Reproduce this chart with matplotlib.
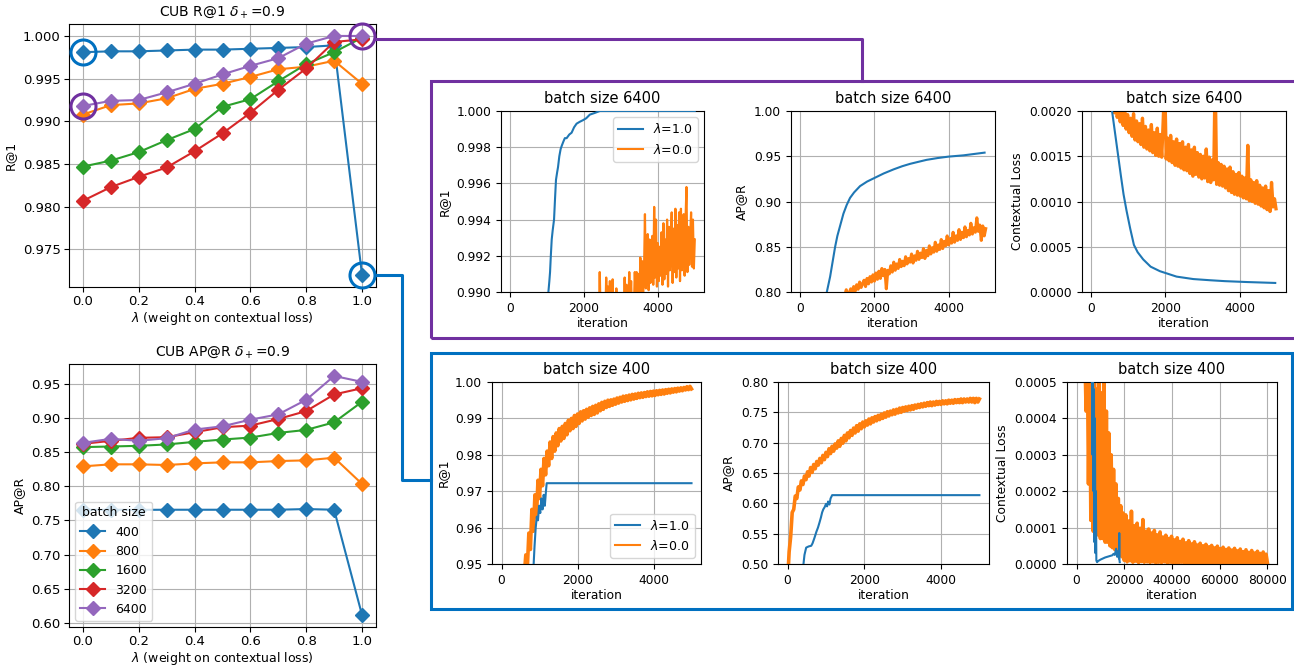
import numpy as np
import matplotlib
matplotlib.use("Agg")
import matplotlib.pyplot as plt
from matplotlib.lines import Line2D
from matplotlib.patches import Rectangle

# ---- left panels: CUB sweep over lambda ----
lam = [0.0, 0.1, 0.2, 0.3, 0.4, 0.5, 0.6, 0.7, 0.8, 0.9, 1.0]
batch_sizes = ["400", "800", "1600", "3200", "6400"]

r1_400 = [0.9981, 0.9982, 0.9982, 0.9983, 0.9984, 0.9984, 0.9985, 0.9986, 0.9987, 0.9989, 0.9720]
r1_800 = [0.9908, 0.9919, 0.9921, 0.9927, 0.9938, 0.9944, 0.9952, 0.9961, 0.9964, 0.9971, 0.9944]
r1_1600 = [0.9847, 0.9854, 0.9864, 0.9878, 0.9891, 0.9917, 0.9926, 0.9947, 0.9967, 0.9981, 0.9998]
r1_3200 = [0.9807, 0.9823, 0.9835, 0.9846, 0.9865, 0.9886, 0.9910, 0.9937, 0.9962, 0.9993, 0.9996]
r1_6400 = [0.9918, 0.9924, 0.9925, 0.9934, 0.9944, 0.9955, 0.9965, 0.9974, 0.9991, 1.0000, 1.0000]

ap_400 = [0.7657, 0.7657, 0.7655, 0.7657, 0.7657, 0.7657, 0.7657, 0.7657, 0.7667, 0.7657, 0.6115]
ap_800 = [0.8292, 0.8322, 0.8322, 0.8312, 0.8336, 0.8351, 0.8351, 0.8370, 0.8380, 0.8419, 0.8035]
ap_1600 = [0.8574, 0.8583, 0.8593, 0.8613, 0.8651, 0.8685, 0.8714, 0.8782, 0.8826, 0.8937, 0.9238]
ap_3200 = [0.8622, 0.8666, 0.8710, 0.8719, 0.8792, 0.8865, 0.8889, 0.8986, 0.9102, 0.9345, 0.9437]
ap_6400 = [0.8637, 0.8695, 0.8666, 0.8705, 0.8831, 0.8879, 0.8976, 0.9054, 0.9267, 0.9616, 0.9529]

# ---- training curves, batch size 6400 ----
r1_6400_blue_it = [0, 900, 1000, 1034, 1060, 1079, 1100, 1124, 1150, 1187, 1215, 1240, 1270, 1295,
                   1330, 1366, 1400, 1438, 1480, 1528, 1600, 1663, 1730, 1798, 1880, 1978, 2060,
                   2157, 2300, 2427, 5000]
r1_6400_blue = [0.950, 0.985, 0.9895, 0.9900, 0.9906, 0.9911, 0.9920, 0.9929, 0.9934, 0.9940,
                0.9952, 0.9962, 0.9966, 0.9969, 0.9975, 0.9979, 0.9981, 0.9983, 0.9985, 0.9985,
                0.9987, 0.9988, 0.9991, 0.9993, 0.9994, 0.9995, 0.9996, 0.9998, 0.9999, 1.0000,
                1.0000]
# lambda=0.0 sampled every 25 iterations from 2300
r1_6400_orange = [
    0.9880, 0.9885, 0.9878, 0.9886, 0.9884, 0.9911, 0.9886, 0.9890, 0.9883, 0.9880, 0.9887, 0.9884,
    0.9908, 0.9889, 0.9903, 0.9887, 0.9906, 0.9888, 0.9899, 0.9907, 0.9886, 0.9890, 0.9885, 0.9902,
    0.9884, 0.9888, 0.9883, 0.9889, 0.9886, 0.9884, 0.9889, 0.9887, 0.9908, 0.9889, 0.9904, 0.9887,
    0.9891, 0.9911, 0.9893, 0.9906, 0.9889, 0.9893, 0.9890, 0.9911, 0.9896, 0.9911, 0.9897, 0.9910,
    0.9895, 0.9919, 0.9898, 0.9917, 0.9899, 0.9911, 0.9943, 0.9902, 0.9921, 0.9932, 0.9901, 0.9929,
    0.9905, 0.9924, 0.9931, 0.9904, 0.9947, 0.9908, 0.9940, 0.9903, 0.9927, 0.9906, 0.9925, 0.9909,
    0.9933, 0.9904, 0.9938, 0.9907, 0.9929, 0.9910, 0.9940, 0.9903, 0.9936, 0.9912, 0.9928, 0.9944,
    0.9905, 0.9935, 0.9911, 0.9946, 0.9908, 0.9937, 0.9913, 0.9944, 0.9906, 0.9946, 0.9912, 0.9932,
    0.9943, 0.9909, 0.9940, 0.9958, 0.9911, 0.9936, 0.9915, 0.9930, 0.9944, 0.9914, 0.9940, 0.9913,
    0.9929]

ap_6400_blue_it = [0, 716, 805, 940, 1000, 1163, 1250, 1342, 1450, 1611, 1800, 2000, 2250, 2516,
                   2750, 2960, 3200, 3404, 3700, 4000, 4400, 4969]
ap_6400_blue = [0.60, 0.800, 0.817, 0.850, 0.862, 0.8865, 0.896, 0.904, 0.910, 0.917, 0.922, 0.926,
                0.931, 0.9355, 0.939, 0.9416, 0.944, 0.946, 0.948, 0.9496, 0.951, 0.954]
# lambda=0.0 sampled every 40 iterations from 1200
ap_6400_orange = [
    0.796, 0.8025, 0.797, 0.799, 0.8035, 0.800, 0.806, 0.801, 0.808, 0.803, 0.811, 0.805, 0.809,
    0.813, 0.806, 0.815, 0.809, 0.817, 0.811, 0.819, 0.812, 0.821, 0.814, 0.823, 0.815, 0.826,
    0.818, 0.825, 0.8035, 0.824, 0.820, 0.829, 0.822, 0.833, 0.824, 0.831, 0.826, 0.836, 0.828,
    0.834, 0.829, 0.839, 0.831, 0.837, 0.833, 0.842, 0.832, 0.840, 0.835, 0.845, 0.836, 0.843,
    0.838, 0.848, 0.837, 0.846, 0.840, 0.851, 0.842, 0.849, 0.844, 0.855, 0.845, 0.852, 0.847,
    0.858, 0.848, 0.856, 0.851, 0.862, 0.852, 0.859, 0.854, 0.866, 0.855, 0.862, 0.857, 0.869,
    0.858, 0.866, 0.860, 0.872, 0.861, 0.868, 0.863, 0.876, 0.864, 0.871, 0.866, 0.882, 0.867,
    0.874, 0.857, 0.873, 0.862, 0.870]

loss_6400_blue_it = [300, 450, 560, 600, 700, 800, 870, 950, 1050, 1150, 1250, 1400, 1600, 1850,
                     2000, 2300, 2750, 3200, 3600, 4200, 4960]
loss_6400_blue = [0.0040, 0.0025, 0.0020, 0.00188, 0.00158, 0.00128, 0.00108, 0.00090, 0.00070,
                  0.00052, 0.00044, 0.00036, 0.00028, 0.00023, 0.00021, 0.00017, 0.000143,
                  0.00013, 0.00012, 0.00011, 0.00010]
# lambda=0.0 sampled every 40 iterations from 500
loss_6400_orange = [
    0.00260, 0.00230, 0.00215, 0.00198, 0.00210, 0.00193, 0.00205, 0.00188, 0.00202, 0.00184,
    0.00199, 0.00180, 0.00196, 0.00176, 0.00192, 0.00172, 0.00197, 0.00168, 0.00189, 0.00166,
    0.00186, 0.00163, 0.00192, 0.00160, 0.00183, 0.00158, 0.00179, 0.00156, 0.00185, 0.00154,
    0.00176, 0.00151, 0.00181, 0.00150, 0.00174, 0.00149, 0.00190, 0.00235, 0.00147, 0.00170,
    0.00145, 0.00173, 0.00143, 0.00166, 0.00140, 0.00169, 0.00139, 0.00164, 0.00137, 0.00166,
    0.00135, 0.00160, 0.00134, 0.00163, 0.00131, 0.00157, 0.00128, 0.00160, 0.00130, 0.00154,
    0.00127, 0.00152, 0.00125, 0.00150, 0.00126, 0.00158, 0.00122, 0.00149, 0.00121, 0.00146,
    0.00124, 0.00240, 0.00119, 0.00143, 0.00118, 0.00141, 0.00117, 0.00139, 0.00115, 0.00136,
    0.00112, 0.00138, 0.00110, 0.00133, 0.00108, 0.00130, 0.00107, 0.00132, 0.00106, 0.00128,
    0.00104, 0.00126, 0.00103, 0.00162, 0.00101, 0.00124, 0.00100, 0.00121, 0.00098, 0.00123,
    0.00097, 0.00118, 0.00095, 0.00115, 0.00093, 0.00117, 0.00091, 0.00112, 0.00089, 0.00121,
    0.00094, 0.00103, 0.00092]

# ---- training curves, batch size 400 ----
r1_400_blue_it = [0, 800, 846, 870, 900, 930, 960, 990, 1020, 1050, 1080, 1110, 1140, 1170, 1189, 5000]
r1_400_blue = [0.900, 0.948, 0.950, 0.955, 0.960, 0.963, 0.962, 0.966, 0.964, 0.968, 0.965, 0.969,
               0.966, 0.970, 0.9722, 0.9722]
# lambda=0.0 sampled every 40 iterations from 600
r1_400_orange = [
    0.9470, 0.9525, 0.9490, 0.9585, 0.9540, 0.9650, 0.9590, 0.9690, 0.9630, 0.9730, 0.9680, 0.9760,
    0.9715, 0.9790, 0.9745, 0.9810, 0.9770, 0.9835, 0.9790, 0.9850, 0.9810, 0.9860, 0.9825, 0.9872,
    0.9838, 0.9878, 0.9845, 0.9886, 0.9855, 0.9895, 0.9866, 0.9900, 0.9872, 0.9908, 0.9878, 0.9912,
    0.9886, 0.9918, 0.9893, 0.9921, 0.9898, 0.9925, 0.9903, 0.9929, 0.9908, 0.9933, 0.9911, 0.9936,
    0.9915, 0.9940, 0.9921, 0.9944, 0.9925, 0.9947, 0.9930, 0.9950, 0.9933, 0.9951, 0.9936, 0.9953,
    0.9939, 0.9956, 0.9942, 0.9958, 0.9945, 0.9961, 0.9947, 0.9962, 0.9949, 0.9964, 0.9951, 0.9966,
    0.9953, 0.9967, 0.9955, 0.9969, 0.9957, 0.9970, 0.9958, 0.9971, 0.9960, 0.9973, 0.9961, 0.9974,
    0.9962, 0.9975, 0.9963, 0.9976, 0.9965, 0.9977, 0.9966, 0.9978, 0.9967, 0.9979, 0.9969, 0.9980,
    0.9970, 0.9981, 0.9972, 0.9982, 0.9973, 0.9983, 0.9975, 0.9984, 0.9976, 0.9985, 0.9978, 0.9987,
    0.9979, 0.9988, 0.9981]

ap_400_blue_it = [0, 380, 414, 440, 484, 550, 616, 650, 700, 750, 792, 830, 870, 900, 930, 968,
                  1000, 1030, 1056, 1090, 1120, 1162, 5000]
ap_400_blue = [0.40, 0.49, 0.500, 0.515, 0.527, 0.529, 0.530, 0.534, 0.543, 0.553, 0.560, 0.568,
               0.577, 0.585, 0.590, 0.594, 0.599, 0.595, 0.603, 0.598, 0.608, 0.6135, 0.6135]
# lambda=0.0 sampled every 40 iterations from 0
ap_400_orange = [
    0.470, 0.520, 0.545, 0.585, 0.590, 0.612, 0.608, 0.627, 0.622, 0.637, 0.631, 0.645, 0.639,
    0.652, 0.645, 0.659, 0.651, 0.664, 0.657, 0.669, 0.663, 0.674, 0.667, 0.679, 0.672, 0.684,
    0.677, 0.690, 0.682, 0.694, 0.686, 0.698, 0.691, 0.703, 0.694, 0.707, 0.699, 0.712, 0.703,
    0.716, 0.708, 0.720, 0.712, 0.724, 0.716, 0.728, 0.719, 0.731, 0.723, 0.734, 0.726, 0.736,
    0.729, 0.739, 0.731, 0.741, 0.734, 0.743, 0.736, 0.745, 0.738, 0.747, 0.740, 0.749, 0.742,
    0.751, 0.744, 0.752, 0.746, 0.754, 0.747, 0.755, 0.749, 0.757, 0.750, 0.758, 0.752, 0.759,
    0.753, 0.760, 0.754, 0.761, 0.755, 0.762, 0.757, 0.763, 0.758, 0.764, 0.759, 0.765, 0.760,
    0.766, 0.761, 0.767, 0.761, 0.767, 0.762, 0.768, 0.763, 0.768, 0.763, 0.769, 0.764, 0.769,
    0.764, 0.770, 0.765, 0.770, 0.765, 0.771, 0.766, 0.771, 0.766, 0.772, 0.766, 0.772, 0.767,
    0.772, 0.767, 0.773, 0.767, 0.773, 0.766, 0.773, 0.767, 0.772]

loss_400_blue_it = [0, 5000, 6000, 6300, 6500, 6700, 6900, 7100, 7300, 7500, 7700, 7900, 8100,
                    8300, 8600, 9000, 10000, 11000, 12000, 13000, 14000, 15000, 15500, 16000,
                    16600, 17000, 17400, 17800, 17900, 18000, 18100]
loss_400_blue = [0.01, 0.002, 0.0009, 0.00050, 0.00052, 0.00030, 0.00050, 0.00020, 0.00048,
                 0.00006, 0.00040, 0.00003, 0.00020, 0.00001, 0.000005, 0.000008, 0.000012,
                 0.000015, 0.000018, 0.000020, 0.000022, 0.000024, 0.000028, 0.000025, 0.000042,
                 0.000020, 0.000035, 0.000015, 0.000085, 0.000010, 0.000005]
# lambda=0.0 sampled every 500 iterations from 2500 up to 20000
loss_400_orange_a = [
    0.00080, 0.00065, 0.00058, 0.00042, 0.00060, 0.00022, 0.00055, 0.00012, 0.00052, 0.00009,
    0.00050, 0.00008, 0.00048, 0.00008, 0.00051, 0.00007, 0.00047, 0.00007, 0.00050, 0.00006,
    0.00042, 0.00006, 0.00036, 0.00005, 0.00030, 0.000045, 0.00026, 0.00004, 0.00022, 0.000035,
    0.00018, 0.00003, 0.00016, 0.00002, 0.00014, 0.00001]
# then every 600 iterations from 20600 to 80000
loss_400_orange_b = [
    0.000135, 0.000006, 0.000118, 0.000009, 0.000145, 0.000005, 0.000105, 0.000008, 0.000112,
    0.000004, 0.000098, 0.000007, 0.000122, 0.000005, 0.000090, 0.000006, 0.000096, 0.000004,
    0.000085, 0.000006, 0.000092, 0.000003, 0.000080, 0.000005, 0.000088, 0.000004, 0.000074,
    0.000006, 0.000079, 0.000003, 0.000070, 0.000005, 0.000076, 0.000003, 0.000066, 0.000004,
    0.000072, 0.000003, 0.000062, 0.000005, 0.000068, 0.000003, 0.000058, 0.000004, 0.000064,
    0.000002, 0.000055, 0.000004, 0.000061, 0.000003, 0.000052, 0.000002, 0.000057, 0.000004,
    0.000050, 0.000002, 0.000054, 0.000003, 0.000047, 0.000002, 0.000051, 0.000003, 0.000044,
    0.000002, 0.000049, 0.000003, 0.000042, 0.000002, 0.000046, 0.000002, 0.000040, 0.000003,
    0.000044, 0.000002, 0.000038, 0.000002, 0.000043, 0.000003, 0.000036, 0.000002, 0.000041,
    0.000002, 0.000034, 0.000003, 0.000039, 0.000002, 0.000032, 0.000002, 0.000037, 0.000002,
    0.000030, 0.000003, 0.000035, 0.000002, 0.000029, 0.000002, 0.000033, 0.000002, 0.000027,
    0.000002]

W, H = 1294, 665
PURPLE = "#7030a0"
BLUE = "#0070c0"
C_BLUE, C_ORANGE = "#1f77b4", "#ff7f0e"

plt.rcParams["font.size"] = 9
fig = plt.figure(figsize=(W / 100, H / 100), dpi=100)


def px_axes(left, top, right, bottom):
    return fig.add_axes([left / W, 1 - bottom / H, (right - left) / W, (bottom - top) / H])


def on_grid(start, step, vals):
    return start + step * np.arange(len(vals))


# left column
ax_r1 = px_axes(69, 24, 376, 287)
ax_ap = px_axes(69, 364, 376, 627)
colors = ["C0", "C1", "C2", "C3", "C4"]
for ax, series in ((ax_r1, [r1_400, r1_800, r1_1600, r1_3200, r1_6400]),
                   (ax_ap, [ap_400, ap_800, ap_1600, ap_3200, ap_6400])):
    for vals, c, lab in zip(series, colors, batch_sizes):
        ax.plot(lam, vals, marker="D", ms=7, lw=1.5, color=c, label=lab)
    ax.grid(True)
    ax.set_xlabel(r"$\lambda$ (weight on contextual loss)", fontsize=9, labelpad=1.5)
    ax.tick_params(labelsize=9.5, pad=2.5)
ax_r1.set_title(r"CUB R@1 $\delta_+$=0.9", fontsize=10)
ax_ap.set_title(r"CUB AP@R $\delta_+$=0.9", fontsize=10)
ax_r1.set_ylabel("R@1", fontsize=9)
ax_ap.set_ylabel("AP@R", fontsize=9)
ax_ap.legend(title="batch size", loc="lower left", fontsize=9, title_fontsize=9)

# highlight circles
for x, y, c in ((lam[0], r1_400[0], BLUE), (lam[0], r1_6400[0], PURPLE),
                (lam[-1], r1_6400[-1], PURPLE), (lam[-1], r1_400[-1], BLUE)):
    ax_r1.plot(x, y, "o", ms=18, mfc="none", mec=c, mew=2.2, clip_on=False, zorder=5)


def panel(rect, title, ylabel, ylim, xlim, xticks, blue, orange, olw=2.0):
    ax = px_axes(*rect)
    ax.plot(orange[0], orange[1], color=C_ORANGE, lw=olw, zorder=2)
    ax.plot(blue[0], blue[1], color=C_BLUE, lw=1.5, zorder=3)
    ax.set_ylim(*ylim)
    ax.set_xlim(*xlim)
    ax.set_xticks(xticks)
    ax.grid(True)
    ax.set_title(title, fontsize=10.5)
    ax.set_ylabel(ylabel, fontsize=8.8)
    ax.set_xlabel("iteration", fontsize=8.8, labelpad=1.5)
    ax.tick_params(labelsize=8.8)
    return ax


short = (-250, 5250)
t = [0, 2000, 4000]
o_r1_6400 = (np.r_[0, on_grid(2300, 25, r1_6400_orange)], np.r_[0.96, r1_6400_orange])
o_ap_6400 = (np.r_[0, on_grid(1200, 40, ap_6400_orange)], np.r_[0.70, ap_6400_orange])
o_ls_6400 = (on_grid(500, 40, loss_6400_orange), loss_6400_orange)
o_r1_400 = (np.r_[0, on_grid(600, 40, r1_400_orange)], np.r_[0.90, r1_400_orange])
o_ap_400 = (on_grid(0, 40, ap_400_orange), ap_400_orange)
o_ls_400 = (np.r_[on_grid(2500, 500, loss_400_orange_a), on_grid(20600, 600, loss_400_orange_b)],
            np.r_[loss_400_orange_a, loss_400_orange_b])

p1 = panel((501, 111, 704, 292), "batch size 6400", "R@1", (0.990, 1.000), short, t,
           (r1_6400_blue_it, r1_6400_blue), o_r1_6400, olw=1.6)
panel((791, 111, 995, 292), "batch size 6400", "AP@R", (0.80, 1.00), short, t,
      (ap_6400_blue_it, ap_6400_blue), o_ap_6400, olw=2.2)
panel((1082, 111, 1286, 292), "batch size 6400", "Contextual Loss", (0, 0.002), short, t,
      (loss_6400_blue_it, loss_6400_blue), o_ls_6400, olw=2.4)
p4 = panel((492, 382, 701, 564), "batch size 400", "R@1", (0.95, 1.00), short, t,
           (r1_400_blue_it, r1_400_blue), o_r1_400, olw=2.6)
panel((778, 382, 989, 564), "batch size 400", "AP@R", (0.50, 0.80), short, t,
      (ap_400_blue_it, ap_400_blue), o_ap_400, olw=2.6)
panel((1067, 382, 1277, 564), "batch size 400", "Contextual Loss", (0, 0.0005), (-4000, 84000),
      [0, 20000, 40000, 60000, 80000], (loss_400_blue_it, loss_400_blue), o_ls_400, olw=2.6)

handles = [Line2D([], [], color=C_BLUE, lw=1.5), Line2D([], [], color=C_ORANGE, lw=1.5)]
labels = [r"$\lambda$=1.0", r"$\lambda$=0.0"]
p1.legend(handles, labels, loc="upper right", fontsize=9)
p4.legend(handles, labels, loc="lower right", fontsize=9)

# frames around the zoomed panels
fig.add_artist(Rectangle((431 / W, 1 - 338 / H), (1300 - 431) / W, (338 - 81) / H,
                         transform=fig.transFigure, fill=False, ec=PURPLE, lw=2.2))
fig.add_artist(Rectangle((431 / W, 1 - 609 / H), (1292 - 431) / W, (609 - 353) / H,
                         transform=fig.transFigure, fill=False, ec=BLUE, lw=2.2))

# connectors from the circled points to the frames
fig.canvas.draw()
to_fig = fig.transFigure.inverted()
px, py = ax_r1.transData.transform((lam[-1], r1_6400[-1]))
bx, by = ax_r1.transData.transform((lam[-1], r1_400[-1]))
py -= 3
r = 13
for xs, ys, c in (([px + r, 862, 862], [py, py, H - 81], PURPLE),
                  ([bx + r, 402, 402, 431], [by, by, H - 480, H - 480], BLUE)):
    pts = to_fig.transform(np.column_stack([xs, ys]))
    fig.add_artist(Line2D(pts[:, 0], pts[:, 1], transform=fig.transFigure, color=c, lw=2.2))

fig.savefig("out.png", dpi=100)
